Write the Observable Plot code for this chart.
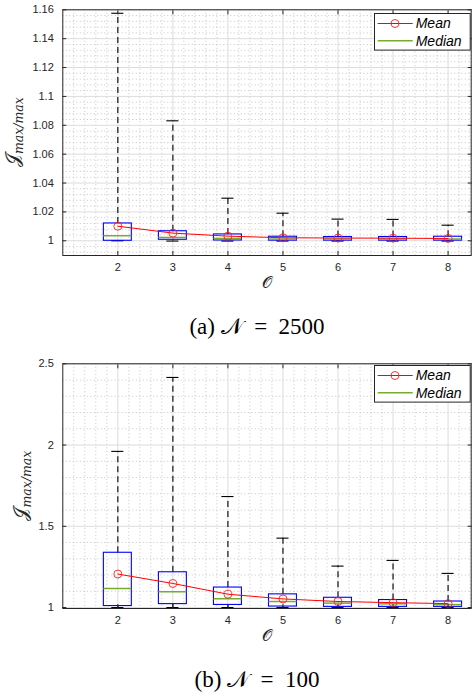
<!DOCTYPE html>
<html><head><meta charset="utf-8">
<script src="https://cdn.jsdelivr.net/npm/d3@7"></script>
<script src="https://cdn.jsdelivr.net/npm/@observablehq/plot@0.6"></script>
<style>
body{margin:0;background:#fff;}
#root{position:relative;width:472px;}
.cap{height:48px;box-sizing:border-box;padding-top:24px;line-height:22px;font-family:"Liberation Serif","DejaVu Serif",serif;font-size:23px;text-align:center;padding-left:42px;color:#000;white-space:pre;}
.legend{position:absolute;display:block;}
</style></head><body><div id="root"></div>
<script>
// x categories (order O)
const orders = [2, 3, 4, 5, 6, 7, 8];

// (a) N = 2500
const a_hi   = [1.1576, 1.0831, 1.0295, 1.0191, 1.0150, 1.0148, 1.0108];
const a_q3   = [1.0120, 1.0066, 1.0044, 1.0028, 1.0026, 1.0026, 1.0028];
const a_med  = [1.0035, 1.0023, 1.0016, 1.0012, 1.0012, 1.0012, 1.0012];
const a_q1   = [1.0000, 1.0007, 1.0002, 1.0001, 1.0001, 1.0001, 1.0001];
const a_lo   = [1.0000, 0.9998, 0.9998, 0.9998, 0.9998, 0.9998, 0.9998];
const a_mean = [1.0101, 1.0053, 1.0032, 1.0021, 1.0019, 1.0018, 1.0016];
const a_yticks = [1, 1.02, 1.04, 1.06, 1.08, 1.1, 1.12, 1.14, 1.16];

// (b) N = 100
const b_hi   = [1.961, 2.416, 1.683, 1.427, 1.255, 1.290, 1.210];
const b_q3   = [1.337, 1.217, 1.123, 1.081, 1.060, 1.046, 1.037];
const b_med  = [1.117, 1.097, 1.054, 1.037, 1.027, 1.023, 1.018];
const b_q1   = [1.009, 1.021, 1.016, 1.006, 1.004, 1.004, 1.004];
const b_lo   = [1.000, 1.000, 1.000, 1.000, 1.000, 1.000, 1.000];
const b_mean = [1.206, 1.148, 1.082, 1.053, 1.037, 1.030, 1.024];
const b_yticks = [1, 1.5, 2, 2.5];

const xticks = orders;
const seriesNames = ["Mean", "Median"];

function table(hi, q3, med, q1, lo, mean) {
  return orders.map((o, i) => ({o, hi: hi[i], q3: q3[i], med: med[i], q1: q1[i], lo: lo[i], mean: mean[i]}));
}

const INK = "#262626";
const BW = 0.254, CW = 0.11;
const fmt = d => String(+d);

function chart({data, ydomain, yticks, yminor, height, marginTop, labelX}) {
  const xminor = d3.range(1, 8.42, 0.2).filter(v => Math.abs(v - Math.round(v)) > 1e-6);
  const svg = Plot.plot({
    width: 472, height,
    marginTop, marginBottom: 37, marginLeft: 62.3, marginRight: 1.3,
    style: {fontFamily: "'Liberation Sans', Arial, Helvetica, sans-serif", fontSize: "11px", color: INK, background: "white"},
    x: {domain: [1, 8.42]},
    y: {domain: ydomain},
    marks: [
      Plot.gridY(yminor, {stroke: "#c4c4c4", strokeOpacity: 1, strokeDasharray: "1,2.5"}),
      Plot.gridX(xminor, {stroke: "#c4c4c4", strokeOpacity: 1, strokeDasharray: "1,2.5"}),
      Plot.gridY(yticks, {stroke: "#dcdcdc", strokeOpacity: 1}),
      Plot.gridX(xticks, {stroke: "#dcdcdc", strokeOpacity: 1}),
      Plot.ruleX(data, {x: "o", y1: "q3", y2: "hi", stroke: "black", strokeWidth: 1.1, strokeDasharray: "6,4"}),
      Plot.ruleX(data, {x: "o", y1: "lo", y2: "q1", stroke: "black", strokeWidth: 1.1, strokeDasharray: "6,4"}),
      Plot.ruleY(data, {y: "hi", x1: d => d.o - CW, x2: d => d.o + CW, stroke: "black", strokeWidth: 1.1}),
      Plot.ruleY(data, {y: "lo", x1: d => d.o - CW, x2: d => d.o + CW, stroke: "black", strokeWidth: 1.1}),
      Plot.rect(data, {x1: d => d.o - BW, x2: d => d.o + BW, y1: "q1", y2: "q3", stroke: "#0000ff", fill: "none", strokeWidth: 1.1}),
      Plot.ruleY(data, {y: "med", x1: d => d.o - BW, x2: d => d.o + BW, stroke: "#77AC30", strokeWidth: 1.5}),
      Plot.line(data, {x: "o", y: "mean", stroke: "#ff0000", strokeWidth: 1}),
      Plot.dot(data, {x: "o", y: "mean", r: 4, stroke: "#ff2020", fill: "none", strokeWidth: 0.9}),
      Plot.frame({stroke: INK, strokeWidth: 1}),
      Plot.axisY(yticks, {anchor: "left", tickSize: -4, tickFormat: () => "", label: null, stroke: INK}),
      Plot.axisY(yticks, {anchor: "right", tickSize: -4, tickFormat: () => "", label: null, stroke: INK}),
      Plot.axisX(xticks, {anchor: "bottom", tickSize: -4, tickFormat: () => "", label: null, stroke: INK}),
      Plot.axisX(xticks, {anchor: "top", tickSize: -4, tickFormat: () => "", label: null, stroke: INK}),
      Plot.axisY(yticks, {anchor: "left", tickSize: 0, tickPadding: 9, label: null, fill: INK, tickFormat: fmt}),
      Plot.axisX(xticks, {anchor: "bottom", tickSize: 0, tickPadding: 8, label: null, fill: INK, tickFormat: fmt})
    ]
  });
  const s = d3.select(svg);
  const cy = (marginTop + height - 37) / 2;
  const t = s.append("text")
    .attr("transform", `translate(${labelX},${cy}) rotate(-90)`)
    .attr("text-anchor", "middle")
    .attr("fill", INK)
    .style("font-family", "'DejaVu Serif','Liberation Serif',serif");
  t.append("tspan").attr("font-size", "19px").text("\u{1D4A5}");
  t.append("tspan").attr("font-size", "12.5px").attr("font-style", "italic").attr("dy", "4").text("max/max");
  s.append("text")
    .attr("x", (62.3 + 470.7) / 2).attr("y", height - 37 + 33)
    .attr("text-anchor", "middle").attr("fill", INK)
    .style("font-family", "'DejaVu Serif','Liberation Serif',serif").attr("font-size", "16px")
    .text("\u{1D4AA}");
  return svg;
}

function legend(top) {
  const w = 96.7, h = 37.6;
  const svg = d3.create("svg").attr("class", "legend").attr("width", w).attr("height", h)
    .style("left", "374px").style("top", top + "px");
  svg.append("rect").attr("x", 0.5).attr("y", 0.5).attr("width", w - 1).attr("height", h - 1).attr("fill", "white").attr("stroke", INK);
  const rows = [
    {y: 10.5, color: "#ff0000", marker: true},
    {y: 27.7, color: "#77AC30", marker: false}
  ];
  rows.forEach((r, i) => {
    svg.append("line").attr("x1", 3.7).attr("x2", 38.7).attr("y1", r.y).attr("y2", r.y).attr("stroke", r.color).attr("stroke-width", r.marker ? 1 : 1.5);
    if (r.marker) svg.append("circle").attr("cx", 21).attr("cy", r.y).attr("r", 4).attr("fill", "none").attr("stroke", "#ff2020").attr("stroke-width", 0.9);
    svg.append("text").attr("x", 41.7).attr("y", r.y).attr("dy", "0.35em")
      .style("font-family", "'Liberation Sans', Arial, sans-serif").style("font-size", "14px").style("font-style", "italic")
      .attr("fill", "#000").text(seriesNames[i]);
  });
  return svg.node();
}

const root = document.getElementById("root");
const dataA = table(a_hi, a_q3, a_med, a_q1, a_lo, a_mean);
const dataB = table(b_hi, b_q3, b_med, b_q1, b_lo, b_mean);

root.appendChild(chart({data: dataA, ydomain: [0.9898, 1.16], yticks: a_yticks,
  yminor: d3.range(0, 43).map(i => +(0.992 + i * 0.004).toFixed(3)).filter(v => Math.abs((v - 1) / 0.02 - Math.round((v - 1) / 0.02)) > 1e-6 && v < 1.16),
  height: 292, marginTop: 9.3, labelX: 19}));
root.appendChild(legend(13.3));
const capA = document.createElement("div"); capA.className = "cap";
capA.textContent = "(a) \u{1D4A9}\u2002=\u20022500";
root.appendChild(capA);

root.appendChild(chart({data: dataB, ydomain: [0.994, 2.5], yticks: b_yticks,
  yminor: d3.range(11, 25).map(i => i / 10).filter(v => Math.abs(v * 2 - Math.round(v * 2)) > 1e-6),
  height: 305, marginTop: 23.3, labelX: 27}));
root.appendChild(legend(365));
const capB = document.createElement("div"); capB.className = "cap";
capB.textContent = "(b) \u{1D4A9}\u2002=\u2002100";
root.appendChild(capB);
</script></body></html>
